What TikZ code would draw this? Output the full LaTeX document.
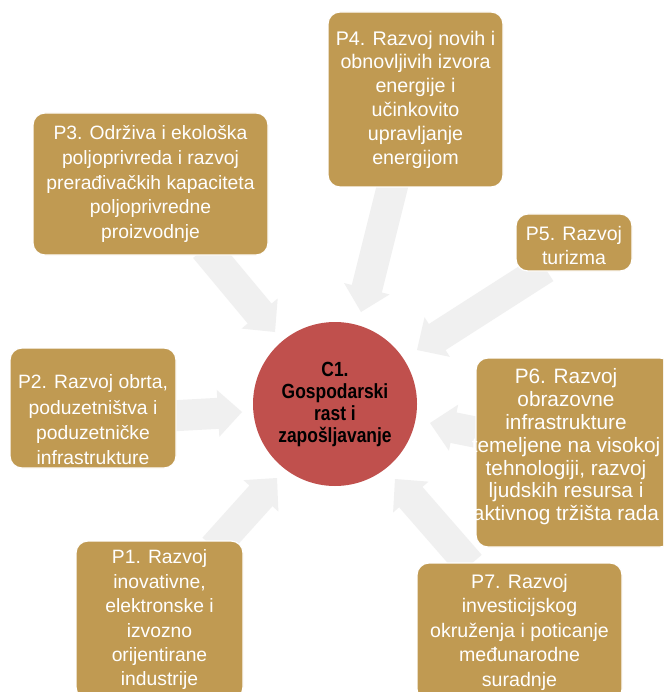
\documentclass[tikz,border=0pt]{standalone}
\usepackage{fontspec}
\setmainfont{Liberation Sans}
\newfontfamily\circfont[FakeStretch=0.85]{Liberation Sans}
\usetikzlibrary{calc}
\definecolor{boxgold}{RGB}{192,154,82}
\definecolor{circred}{RGB}{192,80,77}
\definecolor{arrowgray}{RGB}{240,240,240}
\tikzset{
  pbox/.style={rectangle, rounded corners=12pt, fill=boxgold, draw=white, line width=1.2pt,
    text=white, align=center, inner sep=0pt, font=\fontsize{19.5}{24}\selectfont},
  ptext/.style={text=white, align=center, inner sep=0pt, font=\fontsize{19.5}{24}\selectfont},
  hub/.style={circle, fill=circred, draw=none, minimum size=164pt, inner sep=0pt,
    align=center, text=black, font=\circfont\bfseries\fontsize{20.5}{22}\selectfont},
  barrow/.style={fill=arrowgray, draw=none}
}
\newcommand\blockarrow[2]{%
  \fill[barrow] let \p1=($(#2)-(#1)$), \n1={atan2(\y1,\x1)}, \n2={veclen(\x1,\y1)} in
    ($(#1)+({\n1+90}:15.5pt)$)
    -- ($(#1)+({\n1}:{(\n2-24)*1pt})+({\n1+90}:15.5pt)$)
    -- ($(#1)+({\n1}:{(\n2-24)*1pt})+({\n1+90}:23.5pt)$)
    -- (#2)
    -- ($(#1)+({\n1}:{(\n2-24)*1pt})+({\n1-90}:23.5pt)$)
    -- ($(#1)+({\n1}:{(\n2-24)*1pt})+({\n1-90}:15.5pt)$)
    -- ($(#1)+({\n1-90}:15.5pt)$) -- cycle;}
\begin{document}
\begin{tikzpicture}[x=1pt,y=-1pt]
\clip (0,0) rectangle (663,692);
\fill[white] (0,0) rectangle (663,692);
% arrow tails and tips
\coordinate (t4) at (394,180); \coordinate (h4) at (361,312);
\coordinate (t5) at (545,268); \coordinate (h5) at (417,350);
\coordinate (t3) at (205,248); \coordinate (h3) at (275,332);
\coordinate (t2) at (170,416); \coordinate (h2) at (242,412);
\coordinate (t6) at (485,434); \coordinate (h6) at (430,423);
\coordinate (t1) at (214,548); \coordinate (h1) at (277,478);
\coordinate (t7) at (470,565); \coordinate (h7) at (395,479);
\blockarrow{t4}{h4}
\blockarrow{t5}{h5}
\blockarrow{t3}{h3}
\blockarrow{t2}{h2}
\blockarrow{t6}{h6}
\blockarrow{t1}{h1}
\blockarrow{t7}{h7}
% boxes
\node[pbox, minimum width=175pt, minimum height=175pt, font=\fontsize{19.7}{23.8}\selectfont] (p4) at (415.5,99.5)
  {P4. Razvoj novih i\\obnovljivih izvora\\energije i\\učinkovito\\upravljanje\\energijom};
\node[pbox, minimum width=235pt, minimum height=142pt, font=\fontsize{19.3}{24.6}\selectfont] (p3) at (150.5,184)
  {P3. Održiva i ekološka\\poljoprivreda i razvoj\\prerađivačkih kapaciteta\\poljoprivredne\\proizvodnje};
\node[pbox, minimum width=116pt, minimum height=57pt] (p5) at (574,242.5) {};
\node[ptext] (p5t) at (574,245.5) {P5. Razvoj\\turizma};
\node[pbox, minimum width=166pt, minimum height=120pt] (p2) at (93,408) {};
\node[ptext, font=\fontsize{19.3}{25.3}\selectfont] (p2t) at (93,420)
  {P2. Razvoj obrta,\\poduzetništva i\\poduzetničke\\infrastrukture};
\node[pbox, minimum width=196pt, minimum height=189pt] (p6) at (574,452.5) {};
\node[ptext, font=\fontsize{20.8}{22.8}\selectfont] (p6t) at (566,447)
  {P6. Razvoj\\obrazovne\\infrastrukture\\temeljene na visokoj\\tehnologiji, razvoj\\ljudskih resursa i\\aktivnog tržišta rada};
\node[pbox, minimum width=167pt, minimum height=158pt, font=\fontsize{19.3}{24.4}\selectfont] (p1) at (159.5,620)
  {P1. Razvoj\\inovativne,\\elektronske i\\izvozno\\orijentirane\\industrije};
\node[pbox, minimum width=205pt, minimum height=138pt, font=\fontsize{19.6}{24.5}\selectfont] (p7) at (519.5,632)
  {P7. Razvoj\\investicijskog\\okruženja i poticanje\\međunarodne\\suradnje};
% hub
\node[hub] (c1) at (335,404) {C1.\\Gospodarski\\rast i\\zapošljavanje};
\end{tikzpicture}
\end{document}
